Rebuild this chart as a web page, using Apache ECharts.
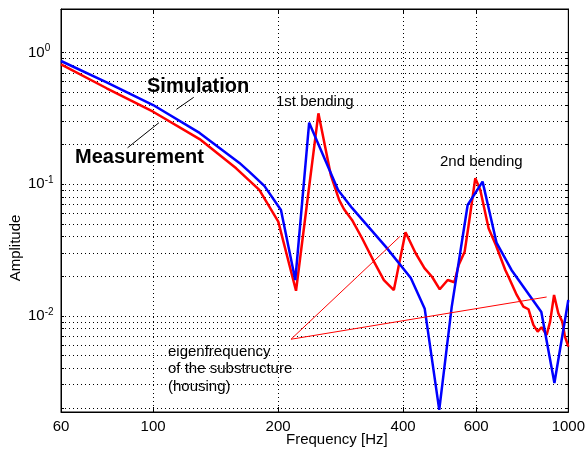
<!DOCTYPE html>
<html>
<head>
<meta charset="utf-8">
<script src="https://cdn.jsdelivr.net/npm/echarts@6/dist/echarts.min.js"></script>
<style>
  html, body { margin: 0; padding: 0; background: #fff; }
  #chart { width: 588px; height: 449px; }
</style>
</head>
<body>
<div id="chart"></div>
<script>
// Simulation (blue)
const simFreq = [60, 77.3, 100, 129.4, 161.4, 170.6, 185.3, 203.2, 220, 237.6, 278.9, 301.3, 363.6, 417.5, 451, 488.8, 523.8, 572.2, 621.6, 671.4, 729.6, 861, 925.8, 1000];
const simAmp  = [0.862, 0.594, 0.399, 0.245, 0.145, 0.124, 0.097, 0.0637, 0.0187, 0.293, 0.0904, 0.066, 0.0334, 0.0194, 0.0113, 0.00193, 0.0117, 0.0695, 0.1045, 0.036, 0.0223, 0.0107, 0.00309, 0.0132];

// Measurement (red)
const measFreq = [60, 77.3, 100, 129.4, 158.5, 180.2, 200.2, 220.9, 250.1, 267.9, 280.5, 288.3, 301.3, 318.4, 340.3, 359.6, 380, 405.4, 428.5, 450.3, 469.6, 490.2, 512.3, 531.6, 544.4, 562.8, 575.4, 597, 613.8, 642.6, 669, 705, 717.6, 751.2, 779.4, 801.6, 823.8, 843.6, 862, 886.8, 904, 924, 946, 967, 981.6, 1000];
const measAmp  = [0.814, 0.535, 0.355, 0.220, 0.132, 0.0904, 0.0519, 0.0155, 0.345, 0.1174, 0.0759, 0.0645, 0.0535, 0.039, 0.0258, 0.0187, 0.0157, 0.0431, 0.030, 0.023, 0.0198, 0.0159, 0.0187, 0.0180, 0.0243, 0.0307, 0.049, 0.111, 0.0904, 0.0463, 0.0345, 0.0223, 0.0198, 0.0144, 0.01175, 0.01122, 0.00853, 0.00759, 0.00819, 0.00716, 0.00904, 0.0144, 0.01046, 0.00904, 0.00695, 0.00584];

// annotation pointers (data coordinates)
const eigenLineA = [[214.8, 0.00664], [392.9, 0.040]];
const eigenLineB = [[214.8, 0.00664], [886.8, 0.0139]];
const simPointer = [[113.8, 0.370], [125.3, 0.457]];
const measPointer = [[86.8, 0.189], [103.3, 0.293]];

// axes
const xMin = 60, xMax = 1000;
const yMin = 0.00186, yMax = 2.14;
const xTickLabels = [60, 100, 200, 400, 600, 1000];
const xGridTicks = [100, 200, 400, 600];
const yTickLabels = [0.01, 0.1, 1];
const yGridTicks = [0.002, 0.003, 0.004, 0.005, 0.006, 0.007, 0.008, 0.009,
  0.01, 0.02, 0.03, 0.04, 0.05, 0.06, 0.07, 0.08, 0.09,
  0.1, 0.2, 0.3, 0.4, 0.5, 0.6, 0.7, 0.8, 0.9, 1];

const FONT = 'Liberation Sans, Arial, sans-serif';
const dotted = { color: '#000', width: 1, type: [1, 3] };

const pairs = (xs, ys) => xs.map((x, i) => [x, ys[i]]);

const chart = echarts.init(document.getElementById('chart'));

const lineSeries = (name, data, color, width, z) => ({
  name, type: 'line', data, symbol: 'none', showSymbol: false,
  lineStyle: { color, width }, silent: true, z, clip: true
});

chart.setOption({
  animation: false,
  grid: { left: 61, right: 17.5, top: 9, bottom: 37, show: true, borderColor: '#000', borderWidth: 1, backgroundColor: 'transparent' },
  xAxis: [{
    type: 'log', min: xMin, max: xMax, logBase: 10,
    axisLine: { show: true, lineStyle: { color: '#000', width: 1 } },
    axisTick: { show: true, inside: true, length: 5, customValues: xGridTicks, lineStyle: { color: '#000' } },
    axisLabel: { customValues: xTickLabels, color: '#000', fontFamily: FONT, fontSize: 15, margin: 7,
      formatter: v => String(Math.round(v)) },
    splitLine: { show: true, lineStyle: dotted },
    minorTick: { show: false }
  }, {
    type: 'log', min: xMin, max: xMax, position: 'top',
    axisLine: { show: true, lineStyle: { color: '#000' } },
    axisTick: { show: true, inside: true, length: 5, customValues: xGridTicks, lineStyle: { color: '#000' } },
    axisLabel: { show: false }, splitLine: { show: false }
  }],
  yAxis: [{
    type: 'log', min: yMin, max: yMax, logBase: 10,
    axisLine: { show: true, lineStyle: { color: '#000', width: 1 } },
    axisTick: { show: true, inside: true, length: 3, customValues: yGridTicks, lineStyle: { color: '#000' } },
    axisLabel: {
      customValues: yTickLabels, align: 'left', margin: 33, color: '#000',
      formatter: v => '{b|10}{s|' + Math.round(Math.log10(v)) + '}',
      rich: {
        b: { fontFamily: FONT, fontSize: 15, color: '#000', lineHeight: 18 },
        s: { fontFamily: FONT, fontSize: 10, color: '#000', lineHeight: 18, verticalAlign: 'top', padding: [0, 0, 9, 0] }
      }
    },
    splitLine: { show: true, lineStyle: dotted }
  }, {
    type: 'log', min: yMin, max: yMax, position: 'right',
    axisLine: { show: true, lineStyle: { color: '#000' } },
    axisTick: { show: true, inside: true, length: 3, customValues: yGridTicks, lineStyle: { color: '#000' } },
    axisLabel: { show: false }, splitLine: { show: false }
  }],
  series: [
    lineSeries('Measurement', pairs(measFreq, measAmp), '#ff0000', 2.5, 3),
    lineSeries('Simulation', pairs(simFreq, simAmp), '#0000ff', 2.5, 4),
    lineSeries('eigenA', eigenLineA, '#ff0000', 1, 5),
    lineSeries('eigenB', eigenLineB, '#ff0000', 1, 5),
    lineSeries('simPtr', simPointer, '#000', 1, 5),
    lineSeries('measPtr', measPointer, '#000', 1, 5)
  ],
  graphic: [
    { type: 'text', left: 147, top: 76, z: 10, style: { text: 'Simulation', font: 'bold 20px ' + FONT, fill: '#000' } },
    { type: 'text', left: 75, top: 147, z: 10, style: { text: 'Measurement', font: 'bold 20px ' + FONT, fill: '#000' } },
    { type: 'text', left: 276, top: 94, z: 10, style: { text: '1st bending', font: '15px ' + FONT, fill: '#000' } },
    { type: 'text', left: 440, top: 154, z: 10, style: { text: '2nd bending', font: '15px ' + FONT, fill: '#000' } },
    { type: 'text', left: 168, top: 343, z: 10, style: { text: 'eigenfrequency\nof the substructure\n(housing)', font: '15px ' + FONT, fill: '#000', lineHeight: 17.5 } },
    { type: 'text', left: 286, top: 432, z: 10, style: { text: 'Frequency [Hz]', font: '15px ' + FONT, fill: '#000' } },
    { type: 'text', x: 16, y: 248, rotation: Math.PI / 2, z: 10,
      style: { text: 'Amplitude', font: '15px ' + FONT, fill: '#000', align: 'center', verticalAlign: 'middle' } }
  ]
});
</script>
</body>
</html>
